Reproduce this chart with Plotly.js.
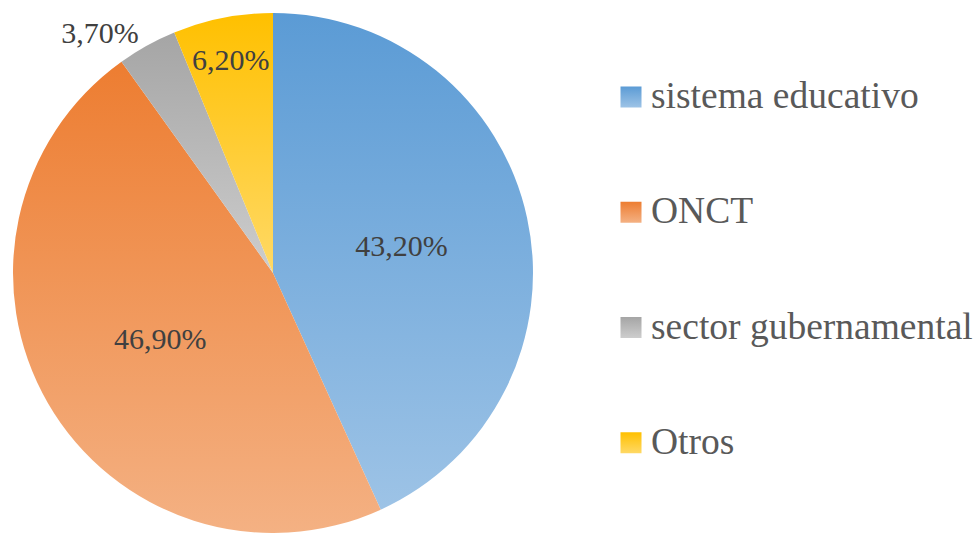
<!DOCTYPE html>
<html><head><meta charset="utf-8">
<script src="https://cdn.plot.ly/plotly-3.0.1.min.js"></script>
<style>html,body{margin:0;padding:0;background:#fff;}</style>
</head><body>
<div id="chart" style="width:978px;height:533px;"></div>
<script>
const categories = ["sistema educativo", "ONCT", "sector gubernamental", "Otros"];
const values = [43.2, 46.9, 3.7, 6.2];
const valueLabels = ["43,20%", "46,90%", "3,70%", "6,20%"];
const colorsTop = ["#5B9BD5", "#ED7D31", "#A5A5A5", "#FFC000"];
const colorsBottom = ["#9DC3E6", "#F4B183", "#CDCDCD", "#FFD966"];

const FONT = "Liberation Serif";
const trace = {
  type: "pie",
  labels: categories.map(c => " <br><span style='font-size:37.5px'>" + c + "</span><br> "),
  values: values,
  text: valueLabels,
  textinfo: "text",
  textposition: ["inside", "inside", "outside", "inside"],
  insidetextorientation: "horizontal",
  sort: false,
  direction: "clockwise",
  rotation: 0,
  marker: { colors: colorsTop, line: { color: "#ffffff", width: 0 } },
  textfont: { family: FONT, size: 30, color: "#404040" },
  domain: { x: [13/978, 533/978], y: [0, 1 - 13/533] },
  hoverinfo: "none"
};
const layout = {
  width: 978, height: 533,
  margin: { l: 0, r: 0, t: 0, b: 0 },
  paper_bgcolor: "#ffffff",
  showlegend: true,
  legend: {
    x: 0.625, y: 0.493, xanchor: "left", yanchor: "middle",
    font: { family: FONT, size: 28.8, color: "#595959" },
    bgcolor: "rgba(0,0,0,0)"
  }
};
Plotly.newPlot("chart", [trace], layout, { staticPlot: true, displayModeBar: false }).then(gd => {
  const svg = gd.querySelector("svg.main-svg");
  let defs = svg.querySelector("defs");
  const ns = "http://www.w3.org/2000/svg";
  colorsTop.forEach((c, i) => {
    const g = document.createElementNS(ns, "linearGradient");
    g.setAttribute("id", "grad" + i);
    g.setAttribute("x1", "0"); g.setAttribute("y1", "0");
    g.setAttribute("x2", "0"); g.setAttribute("y2", "1");
    [[0, c], [1, colorsBottom[i]]].forEach(([o, col]) => {
      const s = document.createElementNS(ns, "stop");
      s.setAttribute("offset", o); s.setAttribute("stop-color", col);
      g.appendChild(s);
    });
    defs.appendChild(g);
  });
  gd.querySelectorAll("g.slice").forEach((sl, i) => {
    const p = sl.querySelector("path.surface");
    if (p) p.style.fill = "url(#grad" + i + ")";
  });
  gd.querySelectorAll(".legend g.traces").forEach((tr, i) => {
    const p = tr.querySelector(".legendpoints path");
    if (p) {
      p.setAttribute("d", "M10.5,10.5H-10.5V-10.5H10.5Z");
      p.style.fill = "url(#grad" + i + ")";
      p.style.strokeWidth = "0";
    }
  });
});
</script>
</body></html>
